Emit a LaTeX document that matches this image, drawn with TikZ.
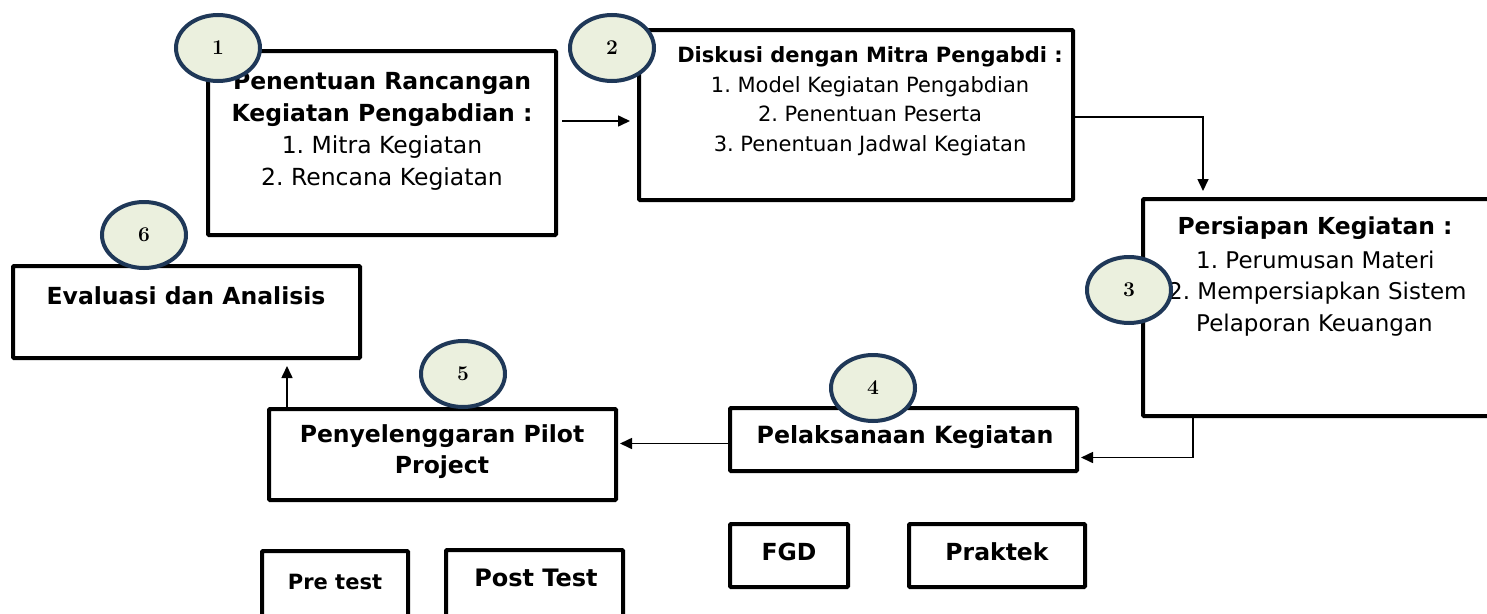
\documentclass[tikz,border=0pt]{standalone}
\usepackage{fontspec}
\newfontfamily\vf{DejaVu Sans}
\usetikzlibrary{shapes.geometric,arrows.meta,calc}
\definecolor{ringblue}{RGB}{31,56,88}
\definecolor{ringfill}{RGB}{235,240,222}
\tikzset{
  frame/.style={draw=black,line width=4pt,inner sep=0pt,rounded corners=1pt},
  label/.style={align=center,inner sep=0pt},
  num/.style={ellipse,draw=ringblue,fill=ringfill,line width=4pt,inner sep=0pt,
    minimum width=84pt,minimum height=66pt,font=\bfseries\fontsize{21}{24}\selectfont},
  arr/.style={line width=1.6pt,-{Triangle[length=12pt,width=11pt]}},
}
\frenchspacing
\begin{document}
\begin{tikzpicture}[x=1pt,y=-1pt]
\useasboundingbox (0,0) rectangle (1487,613);
% process boxes
\node[frame,minimum width=348pt,minimum height=184pt] (b1) at (382,143) {};
\node[frame,minimum width=434pt,minimum height=170pt] (b2) at (856,115) {};
\node[frame,minimum width=370pt,minimum height=217pt] (b3) at (1328,307.5) {};
\node[frame,minimum width=347pt,minimum height=63pt] (b4) at (903.5,439.5) {};
\node[frame,minimum width=347pt,minimum height=91pt] (b5) at (442.5,454.5) {};
\node[frame,minimum width=347pt,minimum height=92pt] (b6) at (186.5,312) {};
% method boxes
\node[frame,minimum width=146pt,minimum height=100pt] (pre) at (335,601) {};
\node[frame,minimum width=177pt,minimum height=100pt] (post) at (534.5,600) {};
\node[frame,minimum width=118pt,minimum height=63pt] (fgd) at (789,555.5) {};
\node[frame,minimum width=176pt,minimum height=63pt] (prak) at (997,555.5) {};
% texts
\node[label,font=\vf\fontsize{23.5}{32}\selectfont] (t1) at (382,131)
  {\textbf{Penentuan Rancangan}\\\textbf{Kegiatan Pengabdian :}\\1. Mitra Kegiatan\\2. Rencana Kegiatan};
\node[label,font=\vf\fontsize{21}{29.5}\selectfont] (t2) at (870,101)
  {\textbf{Diskusi dengan Mitra Pengabdi :}\\1. Model Kegiatan Pengabdian\\2. Penentuan Peserta\\3. Penentuan Jadwal Kegiatan};
\node[label,font=\vf\bfseries\fontsize{23.4}{28}\selectfont] (t3a) at (1315,228) {Persiapan Kegiatan :};
\node[label,anchor=west,font=\vf\fontsize{23}{28}\selectfont] (t3b) at (1196,260) {1. Perumusan Materi};
\node[label,anchor=west,font=\vf\fontsize{23}{28}\selectfont] (t3c) at (1168,293) {2. Mempersiapkan Sistem};
\node[label,anchor=west,font=\vf\fontsize{23}{28}\selectfont] (t3d) at (1196,325) {Pelaporan Keuangan};
\node[label,font=\vf\bfseries\fontsize{23.7}{31}\selectfont] (t4) at (905,437) {Pelaksanaan Kegiatan};
\node[label,font=\vf\bfseries\fontsize{23.5}{31}\selectfont] (t5) at (442,452) {Penyelenggaran Pilot\\Project};
\node[label,font=\vf\bfseries\fontsize{23.5}{28}\selectfont] (t6) at (186,296) {Evaluasi dan Analisis};
\node[label,font=\vf\bfseries\fontsize{21}{24}\selectfont] (t7) at (335,582) {Pre test};
\node[label,font=\vf\bfseries\fontsize{24}{28}\selectfont] (t8) at (536,578) {Post Test};
\node[label,font=\vf\bfseries\fontsize{23.5}{28}\selectfont] (t9) at (789,552) {FGD};
\node[label,font=\vf\bfseries\fontsize{23.5}{28}\selectfont] (t10) at (997,552) {Praktek};
% flow connectors
\coordinate (s12) at ([xshift=4pt,yshift=22pt]b1.east);
\draw[arr,shorten >=7pt] (s12) -- (s12 -| b2.west);
\coordinate (e23) at ($(b2.north west -| b3.north west)+(62,0)$);
\draw[arr,shorten >=6pt] ([yshift=-2pt]b2.east) -| (e23 |- b3.north);
\coordinate (s34) at ($(b3.south west)+(52,0)$);
\draw[arr,shorten >=2pt] (s34) |- ([yshift=-18pt]b4.east);
\coordinate (s45) at ([yshift=-4pt]b4.west);
\draw[arr,shorten >=2pt] (s45) -- (s45 -| b5.east);
\coordinate (s56) at ($(b5.north west)+(20,0)$);
\draw[arr,shorten >=6pt] (s56) -- (s56 |- b6.south);
% step numbers
\node[num] (n1) at (218,48) {1};
\node[num] (n2) at (612,48) {2};
\node[num] (n3) at (1129,290) {3};
\node[num] (n4) at (873,388) {4};
\node[num] (n5) at (463,374) {5};
\node[num] (n6) at (144,235) {6};
\end{tikzpicture}
\end{document}
